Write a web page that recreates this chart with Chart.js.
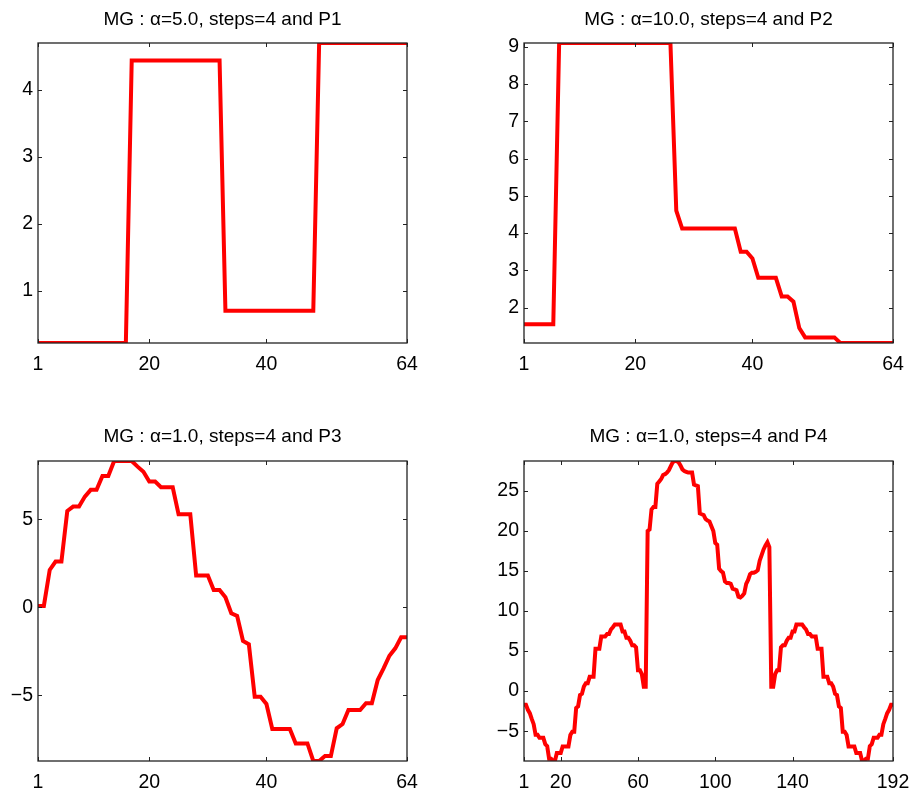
<!DOCTYPE html>
<html>
<head>
<meta charset="utf-8">
<title>MG steps=4</title>
<script src="https://cdn.jsdelivr.net/npm/chart.js@4.4.1/dist/chart.umd.min.js"></script>
<style>
  html, body { margin: 0; background: #fff; overflow: hidden; }
  #fig { position: relative; width: 914px; height: 794px; overflow: hidden; }
  #fig canvas { position: absolute; }
</style>
</head>
<body>
<div id="fig">
  <canvas id="p1"></canvas>
  <canvas id="p2"></canvas>
  <canvas id="p3"></canvas>
  <canvas id="p4"></canvas>
</div>
<script>
//Titulos
const titles = [
  'MG : \u03b1=5.0, steps=4 and P1',
  'MG : \u03b1=10.0, steps=4 and P2',
  'MG : \u03b1=1.0, steps=4 and P3',
  'MG : \u03b1=1.0, steps=4 and P4'
];

//Valores
const p1Values = [
  0.22, 0.22, 0.22, 0.22, 0.22, 0.22, 0.22, 0.22, 0.22, 0.22, 0.22, 0.22, 0.22, 0.22, 0.22, 0.22,
  4.44, 4.44, 4.44, 4.44, 4.44, 4.44, 4.44, 4.44, 4.44, 4.44, 4.44, 4.44, 4.44, 4.44, 4.44, 4.44,
  0.70, 0.70, 0.70, 0.70, 0.70, 0.70, 0.70, 0.70, 0.70, 0.70, 0.70, 0.70, 0.70, 0.70, 0.70, 0.70,
  4.70, 4.70, 4.70, 4.70, 4.70, 4.70, 4.70, 4.70, 4.70, 4.70, 4.70, 4.70, 4.70, 4.70, 4.70, 4.70
];

const p2Values = [
  1.55, 1.55, 1.55, 1.55, 1.55, 1.55,
  9.1, 9.1, 9.1, 9.1, 9.1, 9.1, 9.1, 9.1, 9.1, 9.1, 9.1, 9.1, 9.1, 9.1, 9.1, 9.1, 9.1, 9.1, 9.1, 9.1,
  4.6,
  4.12, 4.12, 4.12, 4.12, 4.12, 4.12, 4.12, 4.12, 4.12, 4.12,
  3.5, 3.5, 3.32,
  2.8, 2.8, 2.8, 2.8,
  2.3, 2.3, 2.16, 1.45,
  1.2, 1.2, 1.2, 1.2, 1.2, 1.2,
  1.05, 1.05, 1.05, 1.05, 1.05, 1.05, 1.05, 1.05, 1.05, 1.05
];

const p3Values = [
  0.08, 0.08, 2.12, 2.6, 2.6, 5.47, 5.72, 5.72, 6.29, 6.67, 6.67, 7.46, 7.46, 8.31, 8.31, 8.31,
  8.31, 7.99, 7.7, 7.14, 7.14, 6.82, 6.82, 6.82, 5.28, 5.28, 5.28, 1.8, 1.8, 1.8, 0.98, 0.98,
  0.57, -0.34, -0.49, -1.91, -2.1, -5.08, -5.08, -5.49, -6.91, -6.91, -6.91, -6.91, -7.73, -7.73, -7.73, -8.73,
  -8.73, -8.45, -8.45, -6.87, -6.63, -5.83, -5.83, -5.83, -5.45, -5.45, -4.13, -3.47, -2.75, -2.33, -1.7, -1.7
];

const p4Values = [
  -1.7, -1.7, -2.33, -2.75, -3.47, -4.13, -5.45, -5.45, -5.83, -5.83, -5.83, -6.63, -6.87, -8.45, -8.45, -8.73,
  -8.73, -7.73, -7.73, -7.73, -6.91, -6.91, -6.91, -6.91, -5.49, -5.08, -5.08, -2.1, -1.91, -0.49, -0.34, 0.57,
  0.98, 0.98, 1.8, 1.8, 1.8, 5.28, 5.28, 5.28, 6.82, 6.82, 6.82, 7.14, 7.14, 7.7, 7.99, 8.31,
  8.31, 8.31, 8.31, 7.46, 7.46, 6.67, 6.67, 6.29, 5.72, 5.72, 5.47, 2.6, 2.6, 2.12, 0.55, 0.55,
  20.0, 20.2, 22.7, 23.0, 23.0, 25.9, 26.2, 26.5, 27.0, 27.1, 27.3, 27.6, 28.1, 28.6, 28.75, 28.75,
  28.6, 28.2, 27.7, 27.5, 27.4, 27.3, 27.3, 27.3, 25.8, 25.7, 25.6, 22.2, 22.1, 22.0, 21.5, 21.3,
  21.2, 20.6, 20.0, 18.5, 18.3, 15.3, 15.0, 14.8, 13.7, 13.5, 13.5, 13.4, 12.8, 12.7, 12.6, 11.8,
  11.7, 11.9, 12.2, 13.4, 13.9, 14.6, 14.8, 14.8, 14.9, 15.1, 16.3, 17.0, 17.7, 18.2, 18.6, 18.0,
  0.55, 0.55, 2.12, 2.6, 2.6, 5.47, 5.72, 5.72, 6.29, 6.67, 6.67, 7.46, 7.46, 8.31, 8.31, 8.31,
  8.31, 7.99, 7.7, 7.14, 7.14, 6.82, 6.82, 6.82, 5.28, 5.28, 5.28, 1.8, 1.8, 1.8, 0.98, 0.98,
  0.57, -0.34, -0.49, -1.91, -2.1, -5.08, -5.08, -5.49, -6.91, -6.91, -6.91, -6.91, -7.73, -7.73, -7.73, -8.73,
  -8.73, -8.45, -8.45, -6.87, -6.63, -5.83, -5.83, -5.83, -5.45, -5.45, -4.13, -3.47, -2.75, -2.33, -1.7, -1.7
];

//Ticks dos eixos
const xTicks64 = [1, 20, 40, 64];
const xTicks192 = [1, 20, 60, 100, 140, 192];
const p1YTicks = [1, 2, 3, 4];
const p2YTicks = [2, 3, 4, 5, 6, 7, 8, 9];
const p3YTicks = [-5, 0, 5];
const p4YTicks = [-5, 0, 5, 10, 15, 20, 25];

const FONT = "'Liberation Sans', Arial, Helvetica, sans-serif";
const PLOT_W = 369;
const PLOT_H = 300;

//Plugin: caixa estilo MATLAB com ticks para dentro nos 4 lados
const matlabBox = {
  id: 'matlabBox',
  afterDatasetsDraw(chart) {
    const { ctx, chartArea: a, scales } = chart;
    const len = 4;
    ctx.save();
    ctx.strokeStyle = '#222';
    ctx.lineWidth = 1;
    ctx.beginPath();
    scales.x.ticks.forEach(t => {
      const px = Math.round(scales.x.getPixelForValue(t.value)) + 0.5;
      ctx.moveTo(px, a.bottom); ctx.lineTo(px, a.bottom - len);
      ctx.moveTo(px, a.top); ctx.lineTo(px, a.top + len);
    });
    scales.y.ticks.forEach(t => {
      const py = Math.round(scales.y.getPixelForValue(t.value)) + 0.5;
      ctx.moveTo(a.left, py); ctx.lineTo(a.left + len, py);
      ctx.moveTo(a.right, py); ctx.lineTo(a.right - len, py);
    });
    ctx.stroke();
    ctx.lineWidth = 1.3;
    ctx.strokeRect(a.left, a.top, a.right - a.left, a.bottom - a.top);
    ctx.restore();
  }
};

function fmt(v) {
  return v < 0 ? '\u2212' + Math.abs(v) : String(v);
}

//box: posicao da area do grafico na figura (left, figTop), margem lateral (side),
//altura do topo (titulo) e da base (rotulos x)
function makePanel(canvasId, title, values, xTicks, yTicks, box) {
  const canvas = document.getElementById(canvasId);
  canvas.width = PLOT_W + 2 * box.side;
  canvas.height = box.top + PLOT_H + box.bottom;
  canvas.style.left = (box.left - box.side) + 'px';
  canvas.style.top = (box.figTop - box.top) + 'px';

  const points = values.map((v, i) => ({ x: i + 1, y: v }));
  return new Chart(canvas.getContext('2d'), {
    type: 'line',
    data: {
      datasets: [{
        data: points,
        borderColor: '#ff0000',
        borderWidth: 4,
        pointRadius: 0,
        tension: 0,
        fill: false,
        clip: 0
      }]
    },
    plugins: [matlabBox],
    options: {
      responsive: false,
      animation: false,
      layout: { padding: 0 },
      plugins: {
        legend: { display: false },
        tooltip: { enabled: false },
        title: {
          display: true,
          text: title,
          color: '#000',
          font: { family: FONT, size: 19, weight: 'normal', lineHeight: 1 },
          padding: { top: box.titleTop, bottom: box.top - 19 - box.titleTop }
        }
      },
      scales: {
        x: {
          type: 'linear',
          min: xTicks[0],
          max: xTicks[xTicks.length - 1],
          grid: { display: false, drawTicks: false },
          border: { display: false },
          afterBuildTicks: s => { s.ticks = xTicks.map(v => ({ value: v })); },
          afterFit: s => { s.height = box.bottom; },
          ticks: {
            autoSkip: false,
            maxRotation: 0,
            padding: 10,
            color: '#000',
            font: { family: FONT, size: 19.5 },
            callback: v => fmt(v)
          }
        },
        y: {
          type: 'linear',
          min: Math.min(...values),
          max: Math.max(...values),
          grid: { display: false, drawTicks: false },
          border: { display: false },
          afterBuildTicks: s => { s.ticks = yTicks.map(v => ({ value: v })); },
          afterFit: s => { s.width = box.side; },
          ticks: {
            autoSkip: false,
            padding: 5,
            color: '#000',
            font: { family: FONT, size: 19.5 },
            callback: v => fmt(v)
          }
        },
        //eixo vazio a direita, mesma largura, para o titulo ficar centrado sobre a area
        yRight: {
          type: 'linear',
          position: 'right',
          grid: { display: false, drawTicks: false },
          border: { display: false },
          ticks: { display: false },
          afterFit: s => { s.width = box.side; }
        }
      }
    }
  });
}

makePanel('p1', titles[0], p1Values, xTicks64, p1YTicks, { left: 38, figTop: 43, side: 38, top: 43, bottom: 54, titleTop: 10 });
makePanel('p2', titles[1], p2Values, xTicks64, p2YTicks, { left: 524, figTop: 43, side: 50, top: 43, bottom: 54, titleTop: 10 });
makePanel('p3', titles[2], p3Values, xTicks64, p3YTicks, { left: 38, figTop: 461, side: 38, top: 64, bottom: 33, titleTop: 30 });
makePanel('p4', titles[3], p4Values, xTicks192, p4YTicks, { left: 524, figTop: 461, side: 50, top: 64, bottom: 33, titleTop: 30 });
</script>
</body>
</html>
